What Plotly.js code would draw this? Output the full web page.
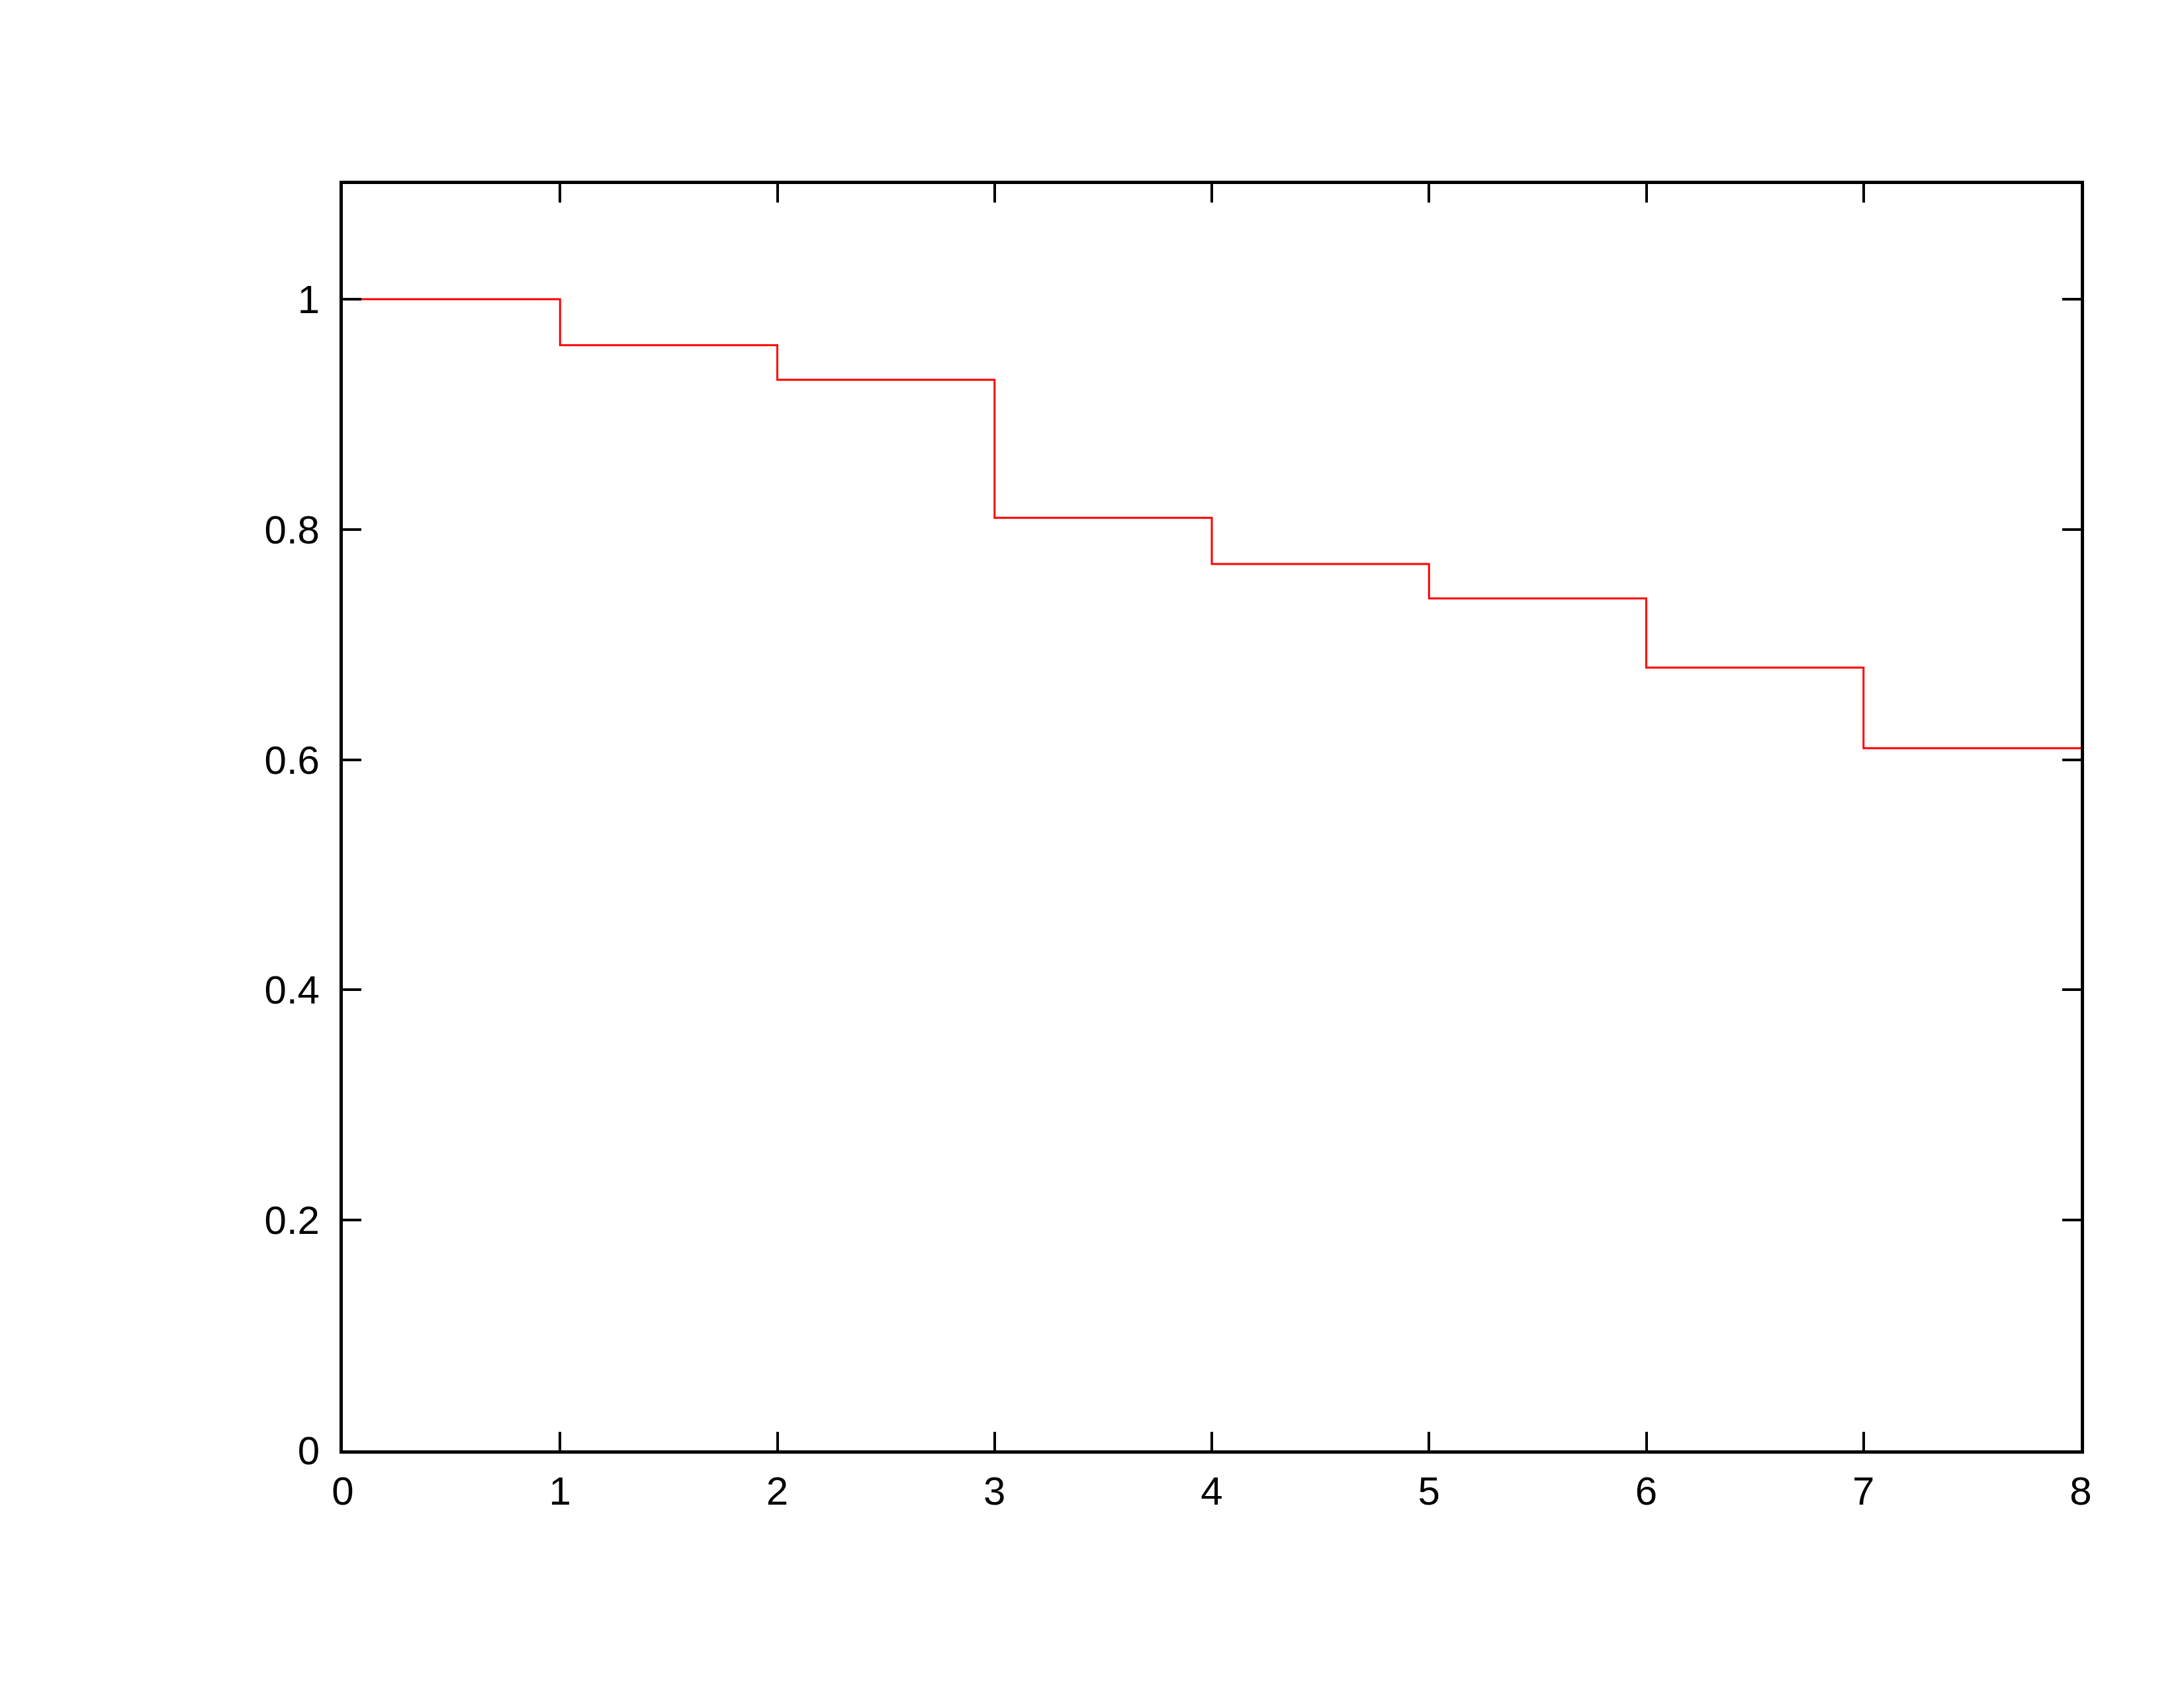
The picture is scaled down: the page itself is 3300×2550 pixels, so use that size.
<!DOCTYPE html>
<html>
<head>
<meta charset="utf-8">
<script src="https://cdn.plot.ly/plotly-3.0.1.min.js"></script>
<style>
  html, body { margin: 0; padding: 0; background: #ffffff; }
  #chart { width: 3300px; height: 2550px; }
</style>
</head>
<body>
<div id="chart"></div>
<script>
// step values
const stepX = [0, 1, 2, 3, 4, 5, 6, 7, 8];
const stepY = [1.0, 0.96, 0.93, 0.81, 0.77, 0.74, 0.68, 0.61, 0.61];

const xTicks = [0, 1, 2, 3, 4, 5, 6, 7, 8];
const yTicks = [0, 0.2, 0.4, 0.6, 0.8, 1];
const yTickText = ["0", "0.2", "0.4", "0.6", "0.8", "1"];

const LINE_COLOR = "#ff0000";
const AXIS_COLOR = "#000000";

const trace = {
    x: stepX,
    y: stepY,
    type: "scatter",
    mode: "lines",
    line: { shape: "hv", color: LINE_COLOR, width: 3 },
    hoverinfo: "none",
};

const axisBase = {
    showgrid: false,
    zeroline: false,
    showline: true,
    linecolor: AXIS_COLOR,
    linewidth: 5,
    mirror: "ticks",
    ticks: "inside",
    ticklen: 28,
    tickwidth: 4,
    tickcolor: AXIS_COLOR,
    tickfont: { family: "Liberation Sans, Arial, sans-serif", size: 60, color: AXIS_COLOR },
};

const layout = {
    width: 3300,
    height: 2550,
    margin: { l: 518, r: 156, t: 278, b: 359 },
    paper_bgcolor: "#ffffff",
    plot_bgcolor: "#ffffff",
    showlegend: false,
    xaxis: {
        ...axisBase,
        range: [0, 8],
        tickmode: "array",
        tickvals: xTicks,
        ticktext: xTicks.map(String),
        ticklabelstandoff: 5,
    },
    yaxis: {
        ...axisBase,
        range: [0, 1.1],
        tickmode: "array",
        tickvals: yTicks,
        ticktext: yTickText,
        ticklabelstandoff: 18,
    },
};

Plotly.newPlot("chart", [trace], layout, { displayModeBar: false, staticPlot: true });
</script>
</body>
</html>
